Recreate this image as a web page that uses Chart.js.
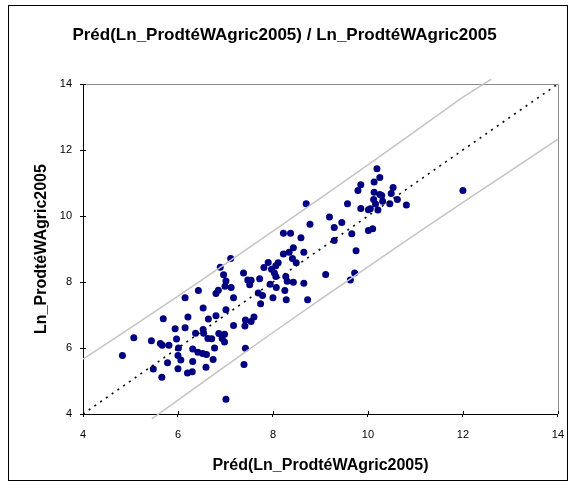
<!DOCTYPE html>
<html>
<head>
<meta charset="utf-8">
<script src="https://cdn.jsdelivr.net/npm/chart.js@4.4.1/dist/chart.umd.min.js"></script>
<style>
  html, body { margin: 0; padding: 0; background: #fff; }
  #wrap { position: absolute; left: 0; top: 0; width: 575px; height: 488px; }
</style>
</head>
<body>
<div id="wrap"><canvas id="predChart" width="575" height="488"></canvas></div>
<script>
// Predicted values (x) and observed values (y) for each observation
const predX = [
  6.43, 6.15, 6.53, 5.69, 6.21, 5.94, 6.15, 6.37, 6.53, 5.07,
  5.44, 5.63, 5.67, 5.81, 5.97, 6.01, 6.31, 6.42, 4.83, 6.00,
  6.06, 5.78, 6.31, 5.48, 6.00, 6.20, 6.30, 5.66, 6.52, 6.60,
  6.80, 6.64, 7.01, 7.17, 7.42, 7.60, 7.54, 7.41, 6.54, 6.63,
  6.71, 6.86, 6.98, 6.93, 6.98, 6.77, 6.74, 6.59, 7.42, 7.39,
  7.01, 6.99, 7.01, 7.12, 6.85, 6.80, 7.17, 7.47, 7.54, 7.51,
  7.94, 8.07, 8.30, 8.43, 8.65, 8.25, 7.69, 7.78, 8.00, 8.28,
  8.73, 7.74, 8.70, 8.78, 8.22, 8.37, 8.59, 8.43, 8.34, 8.22,
  8.65, 8.41, 8.49, 7.11, 6.89, 6.96, 7.90, 7.81, 8.11, 8.06,
  7.97, 8.03, 8.06, 8.27, 7.38, 7.72, 10.19, 10.25, 9.85, 10.13,
  9.79, 10.53, 10.49, 10.13, 10.25, 10.29, 10.62, 10.12, 10.31, 10.16,
  10.46, 10.81, 9.57, 9.85, 10.01, 10.05, 10.21, 9.19, 9.45, 9.29,
  9.66, 10.01, 10.10, 9.29, 9.75, 9.11, 9.72, 9.63, 12.00
];
const obsY = [
  7.74, 7.52, 7.21, 6.89, 6.94, 6.58, 6.61, 6.45, 6.56, 6.31,
  6.22, 6.14, 6.08, 6.08, 6.27, 6.00, 5.97, 5.87, 5.77, 5.77,
  5.64, 5.55, 5.59, 5.36, 5.37, 5.24, 5.28, 5.11, 5.83, 5.80,
  6.98, 6.88, 7.16, 6.68, 6.85, 6.94, 6.80, 6.67, 6.45, 6.29,
  6.28, 6.44, 6.42, 6.29, 6.18, 6.00, 5.65, 5.42, 5.99, 5.50,
  4.45, 7.87, 8.03, 7.83, 7.75, 7.65, 7.52, 8.06, 8.05, 7.92,
  7.93, 7.83, 8.02, 7.99, 7.96, 7.74, 7.67, 7.59, 7.52, 7.46,
  7.46, 7.34, 10.37, 9.75, 9.48, 9.48, 9.34, 9.04, 8.90, 8.85,
  8.90, 8.71, 8.58, 8.71, 8.45, 8.22, 8.59, 8.44, 8.58, 8.49,
  8.39, 8.27, 8.17, 8.17, 8.27, 8.10, 11.43, 11.17, 10.95, 11.03,
  10.77, 10.86, 10.68, 10.72, 10.65, 10.62, 10.50, 10.50, 10.45, 10.36,
  10.37, 10.33, 10.37, 10.23, 10.19, 10.22, 10.18, 9.97, 9.80, 9.65,
  9.46, 9.56, 9.61, 9.26, 8.95, 8.23, 8.27, 8.06, 10.77
];

// Upper and lower prediction bounds
const upperX = [4, 5, 6, 7, 8, 9, 10, 11, 12, 12.6];
const upperY = [5.66, 6.61, 7.57, 8.55, 9.54, 10.54, 11.55, 12.57, 13.60, 14.15];
const lowerX = [5.45, 6, 7, 8, 9, 10, 11, 12, 13, 14];
const lowerY = [3.85, 4.42, 5.45, 6.47, 7.47, 8.46, 9.44, 10.41, 11.37, 12.33];

// y = x reference line
const diagX = [4, 14];
const diagY = [4, 14];

const tickValues = [4, 6, 8, 10, 12, 14];

function toPoints(xs, ys) {
  return xs.map((x, i) => ({ x: x, y: ys[i] }));
}

const fontFamily = "'Liberation Sans', Arial, sans-serif";

// Frame around the whole chart, gray top/right of plot, and inner half of tick marks
const framePlugin = {
  id: 'frame',
  beforeDatasetsDraw(chart) {
    const { ctx, chartArea } = chart;
    ctx.save();
    ctx.strokeStyle = '#8c8c8c';
    ctx.lineWidth = 1;
    ctx.beginPath();
    ctx.moveTo(chartArea.left, Math.round(chartArea.top) + 0.5);
    ctx.lineTo(Math.round(chartArea.right) + 0.5, Math.round(chartArea.top) + 0.5);
    ctx.lineTo(Math.round(chartArea.right) + 0.5, chartArea.bottom);
    ctx.stroke();
    ctx.restore();
  },
  afterDraw(chart) {
    const { ctx, chartArea, scales } = chart;
    ctx.save();
    ctx.strokeStyle = '#000';
    ctx.lineWidth = 1;
    ctx.beginPath();
    tickValues.forEach(v => {
      const px = Math.round(scales.x.getPixelForValue(v)) + 0.5;
      ctx.moveTo(px, chartArea.bottom);
      ctx.lineTo(px, chartArea.bottom - 3);
      const py = Math.round(scales.y.getPixelForValue(v)) + 0.5;
      ctx.moveTo(chartArea.left, py);
      ctx.lineTo(chartArea.left + 3, py);
    });
    ctx.stroke();
    ctx.strokeRect(8.5, 5.5, 559, 475);
    ctx.restore();
  }
};

const ctx = document.getElementById('predChart').getContext('2d');
new Chart(ctx, {
  type: 'scatter',
  data: {
    datasets: [
      {
        label: 'Observations',
        data: toPoints(predX, obsY),
        backgroundColor: '#000080',
        borderColor: '#000080',
        pointRadius: 3.5,
        pointBorderWidth: 0,
        order: 2
      },
      {
        label: 'Borne sup.',
        type: 'line',
        data: toPoints(upperX, upperY),
        borderColor: '#c4c4c4',
        borderWidth: 1.5,
        pointRadius: 0,
        fill: false,
        clip: false,
        order: 1
      },
      {
        label: 'Borne inf.',
        type: 'line',
        data: toPoints(lowerX, lowerY),
        borderColor: '#c4c4c4',
        borderWidth: 1.5,
        pointRadius: 0,
        fill: false,
        clip: false,
        order: 1
      },
      {
        label: 'y = x',
        type: 'line',
        data: toPoints(diagX, diagY),
        borderColor: '#000',
        borderWidth: 1.6,
        borderDash: [2, 5],
        pointRadius: 0,
        fill: false,
        order: 0
      }
    ]
  },
  options: {
    responsive: false,
    animation: false,
    layout: {
      padding: { left: 8, right: 14, top: 0, bottom: 8 }
    },
    plugins: {
      legend: { display: false },
      tooltip: { enabled: false },
      title: {
        display: true,
        text: 'Préd(Ln_ProdtéWAgric2005) / Ln_ProdtéWAgric2005',
        color: '#000',
        font: { family: fontFamily, size: 17, weight: 'bold', lineHeight: 1.2 },
        padding: { top: 24.8, bottom: 38.8 }
      }
    },
    scales: {
      x: {
        type: 'linear',
        min: 4,
        max: 14,
        afterFit(scale) { scale.height = 66; },
        afterBuildTicks(scale) { scale.ticks = tickValues.map(v => ({ value: v })); },
        border: { display: true, color: '#000', width: 1 },
        grid: { drawOnChartArea: false, drawTicks: true, tickLength: 3, color: '#000' },
        ticks: {
          color: '#000',
          padding: 11,
          font: { family: fontFamily, size: 11 }
        },
        title: {
          display: true,
          text: 'Préd(Ln_ProdtéWAgric2005)',
          color: '#000',
          font: { family: fontFamily, size: 16, weight: 'bold', lineHeight: 1.2 },
          padding: { top: 0, bottom: 4.4 }
        }
      },
      y: {
        type: 'linear',
        min: 4,
        max: 14,
        afterFit(scale) { scale.width = 75; },
        afterBuildTicks(scale) { scale.ticks = tickValues.map(v => ({ value: v })); },
        border: { display: true, color: '#000', width: 1 },
        grid: { drawOnChartArea: false, drawTicks: true, tickLength: 3, color: '#000' },
        ticks: {
          color: '#000',
          padding: 8,
          font: { family: fontFamily, size: 11 }
        },
        title: {
          display: true,
          text: 'Ln_ProdtéWAgric2005',
          color: '#000',
          font: { family: fontFamily, size: 16, weight: 'bold', lineHeight: 1.2 },
          padding: { top: 24.4, bottom: 0 }
        }
      }
    }
  },
  plugins: [framePlugin]
});
</script>
</body>
</html>
